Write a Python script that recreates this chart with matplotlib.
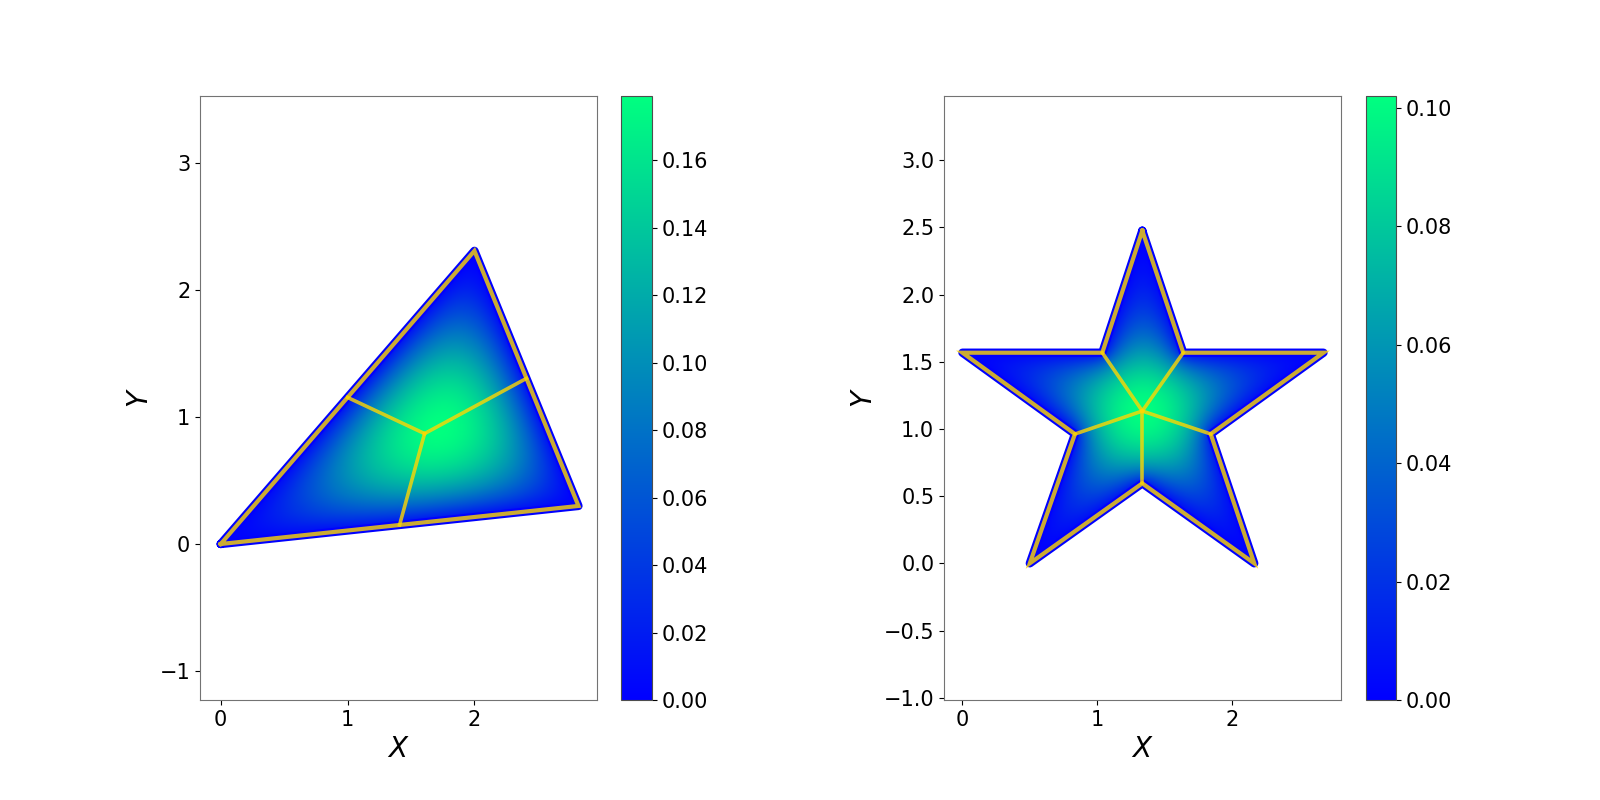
import numpy as np
import matplotlib
matplotlib.use('Agg')
import matplotlib.pyplot as plt
from matplotlib.path import Path
from matplotlib.patches import Polygon

# shapes
tri_x = [0.0, 2.0, 2.82]
tri_y = [0.0, 2.31, 0.30]
tri_center = (1.607, 0.870)
tri_ends_x = [1.0, 2.41, 1.41]
tri_ends_y = [1.155, 1.305, 0.15]
tri_vmax = 0.179

star_x = [1.335, 1.639, 2.68, 1.843, 2.166, 1.335, 0.50, 0.835, 0.0, 1.038]
star_y = [2.475, 1.567, 1.567, 0.962, 0.0, 0.595, 0.0, 0.962, 1.567, 1.567]
star_center = (1.335, 1.133)
star_ends_x = [1.038, 1.639, 1.843, 1.335, 0.835]
star_ends_y = [1.567, 1.567, 0.962, 0.595, 0.962]
star_vmax = 0.102

tick_size = 15
label_size = 20


def torsion_field(px, py, h=0.008):
    # solve -lap(u) = 1 inside the polygon, u = 0 outside (matrix-free CG)
    xs = np.arange(min(px) - 3 * h, max(px) + 3 * h, h)
    ys = np.arange(min(py) - 3 * h, max(py) + 3 * h, h)
    X, Y = np.meshgrid(xs, ys)
    path = Path(np.column_stack([px, py]))
    inside = path.contains_points(np.column_stack([X.ravel(), Y.ravel()])).reshape(X.shape)
    m = inside.astype(float)

    def A(u):
        out = 4 * u
        out[1:, :] -= u[:-1, :]
        out[:-1, :] -= u[1:, :]
        out[:, 1:] -= u[:, :-1]
        out[:, :-1] -= u[:, 1:]
        return out * m / h ** 2

    u = np.zeros_like(m)
    r = m.copy()
    p = r.copy()
    rs = (r * r).sum()
    for _ in range(3000):
        Ap = A(p)
        a = rs / (p * Ap).sum()
        u += a * p
        r -= a * Ap
        rs_new = (r * r).sum()
        if np.sqrt(rs_new) < 1e-7:
            break
        p = r + rs_new / rs * p
        rs = rs_new
    return xs, ys, u


def draw_panel(ax, cax, px, py, center, ends_x, ends_y, vmax, xlim, ylim, cticks):
    xs, ys, u = torsion_field(px, py)
    u = u / u.max() * vmax
    h = xs[1] - xs[0]
    im = ax.imshow(u, origin='lower', cmap='winter', vmin=0, vmax=vmax,
                   extent=[xs[0] - h / 2, xs[-1] + h / 2, ys[0] - h / 2, ys[-1] + h / 2],
                   interpolation='bilinear', aspect='auto')
    clip = Polygon(np.column_stack([px, py]), closed=True, transform=ax.transData,
                   facecolor='none', edgecolor='none')
    ax.add_patch(clip)
    im.set_clip_path(clip)

    bx = list(px) + [px[0]]
    by = list(py) + [py[0]]
    ax.plot(bx, by, color='blue', lw=6, solid_joinstyle='round', solid_capstyle='round')
    ax.plot(bx, by, color='gold', alpha=0.8, lw=3, solid_joinstyle='miter')
    for ex, ey in zip(ends_x, ends_y):
        ax.plot([center[0], ex], [center[1], ey], color='gold', alpha=0.8, lw=2.6)

    ax.set_xlim(*xlim)
    ax.set_ylim(*ylim)
    ax.set_xlabel('$X$', fontsize=label_size)
    ax.set_ylabel('$Y$', fontsize=label_size)
    ax.tick_params(labelsize=tick_size)
    for s in ax.spines.values():
        s.set_color('0.45')

    cb = plt.colorbar(im, cax=cax, ticks=cticks)
    cb.ax.tick_params(labelsize=tick_size)
    cb.ax.yaxis.set_major_formatter(matplotlib.ticker.FormatStrFormatter('%.2f'))
    cb.outline.set_edgecolor('0.3')


fig = plt.figure(figsize=(16, 8), dpi=100)
ax1 = fig.add_axes([200 / 1600, 0.125, 397 / 1600, 0.755])
cax1 = fig.add_axes([621 / 1600, 0.125, 31 / 1600, 0.755])
ax2 = fig.add_axes([944 / 1600, 0.125, 397 / 1600, 0.755])
cax2 = fig.add_axes([1365.5 / 1600, 0.125, 30.5 / 1600, 0.755])

draw_panel(ax1, cax1, tri_x, tri_y, tri_center, tri_ends_x, tri_ends_y, tri_vmax,
           (-0.163, 2.966), (-1.229, 3.53), np.arange(0, 0.17, 0.02))
ax1.set_xticks([0, 1, 2])
ax1.set_yticks([-1, 0, 1, 2, 3])

draw_panel(ax2, cax2, star_x, star_y, star_center, star_ends_x, star_ends_y, star_vmax,
           (-0.137, 2.81), (-1.017, 3.477), np.arange(0, 0.11, 0.02))
ax2.set_xticks([0, 1, 2])
ax2.set_yticks(np.arange(-1.0, 3.01, 0.5))

fig.savefig('out.png', dpi=100)
